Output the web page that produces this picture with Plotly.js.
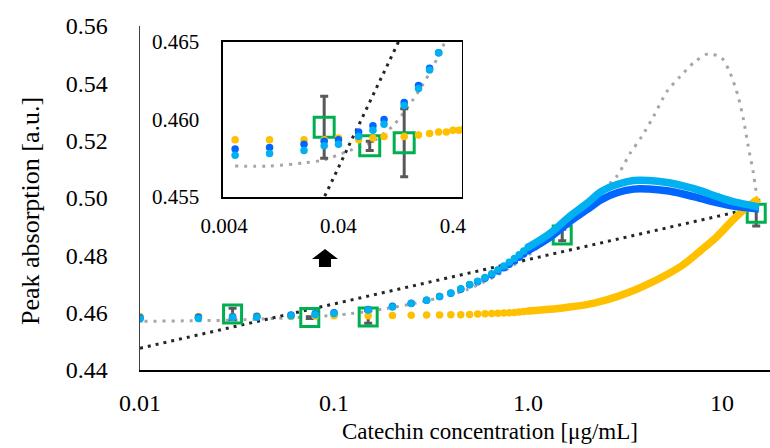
<!DOCTYPE html>
<html><head><meta charset="utf-8">
<script src="https://cdn.plot.ly/plotly-3.0.1.min.js"></script>
<style>html,body{margin:0;padding:0;background:#fff}#chart{width:770px;height:448px}</style>
</head><body><div id="chart"></div>
<script>
// ---- data ----
const concDots = [0.005, 0.01, 0.02, 0.03, 0.04, 0.06, 0.08, 0.1, 0.15, 0.2, 0.25, 0.3, 0.35, 0.4, 0.45, 0.5, 0.55, 0.6, 0.65, 0.7, 0.75, 0.8, 0.85, 0.9, 0.95, 1.0];
const orangeDots = [0.4587, 0.4587, 0.4587, 0.4587, 0.4588, 0.4587, 0.4588, 0.4589, 0.4589, 0.4590, 0.4591, 0.4592, 0.4592, 0.4593, 0.4593, 0.4594, 0.4595, 0.4596, 0.4597, 0.4598, 0.4599, 0.4600, 0.4601, 0.4602, 0.4604, 0.4606];
const darkBlueDots = [0.4581, 0.4582, 0.4584, 0.4586, 0.4587, 0.4592, 0.4596, 0.4600, 0.4611, 0.4622, 0.4633, 0.4643, 0.4656, 0.4668, 0.4682, 0.4697, 0.4708, 0.4720, 0.4732, 0.4745, 0.4757, 0.4769, 0.4781, 0.4793, 0.4805, 0.4816];
const lightBlueDots = [0.4577, 0.4578, 0.4580, 0.4583, 0.4584, 0.4589, 0.4593, 0.4597, 0.4609, 0.4620, 0.4632, 0.4643, 0.4656, 0.4669, 0.4683, 0.4698, 0.4710, 0.4723, 0.4736, 0.4750, 0.4763, 0.4776, 0.4789, 0.4802, 0.4815, 0.4828];

const concCurve = [1.0, 1.3, 1.6, 2.0, 2.4, 2.9, 3.5, 4.2, 5.2, 6.3, 7.7, 9.4, 11.4, 13.9, 15.5];
const orangeCurve = [0.4606, 0.4612, 0.4619, 0.4628, 0.4640, 0.4657, 0.4677, 0.4701, 0.4733, 0.4767, 0.4815, 0.4865, 0.4924, 0.4976, 0.4998];
const darkBlueCurve = [0.4816, 0.4863, 0.4912, 0.4958, 0.4995, 0.5019, 0.5031, 0.5031, 0.5025, 0.5014, 0.4999, 0.4984, 0.4972, 0.4965, 0.4962];
const lightBlueCurve = [0.4828, 0.4877, 0.4930, 0.4980, 0.5024, 0.5048, 0.5061, 0.5061, 0.5054, 0.5042, 0.5026, 0.5005, 0.4987, 0.4975, 0.4968];

const fitX = [0.005, 0.01, 0.02, 0.03, 0.05, 0.08, 0.12, 0.18, 0.25, 0.34, 0.48, 0.72, 1.06, 1.3, 1.58, 1.93, 2.35, 2.86, 3.36, 3.85, 4.43, 5.19, 6.08, 7.26, 8.5, 9.96, 11.0, 12.1, 12.9, 13.65, 14.5, 15.1];
const fitY = [0.4570, 0.4570, 0.4572, 0.4574, 0.4580, 0.4586, 0.4596, 0.4613, 0.4630, 0.4650, 0.4679, 0.4737, 0.4813, 0.4865, 0.4918, 0.4970, 0.5022, 0.5075, 0.5156, 0.5214, 0.5284, 0.5371, 0.5424, 0.5476, 0.5503, 0.5488, 0.5436, 0.5354, 0.5273, 0.5179, 0.5087, 0.5005];

const trendX = [0.01, 15];
const trendY = [0.4476, 0.4967];

const meanX = [0.03, 0.075, 0.15, 1.5, 15];
const meanY = [0.4595, 0.4583, 0.4585, 0.4871, 0.4947];
const meanErr = [0.0020, 0.0003, 0.0022, 0.0020, 0.0045];

const xTickVals = [0.01, 0.1, 1, 10];
const xTickText = ['0.01', '0.1', '1.0', '10'];
const yTickVals = [0.44, 0.46, 0.48, 0.50, 0.52, 0.54, 0.56];
const insetXTickVals = [0.004, 0.04, 0.4];
const insetXTickText = ['0.004', '0.04', '0.4'];
const insetYTickVals = [0.455, 0.460, 0.465];
const xTitle = 'Catechin concentration [μg/mL]';
const yTitle = 'Peak absorption [a.u.]';

// ---- styles ----
const ORANGE = '#FFC000', DBLUE = '#0066FF', LBLUE = '#00B0F0', GREEN = '#00B050';
const FONT = 'Liberation Serif, Times New Roman, serif';

function tracesFor(xa, ya, sqSize, withCurves) {
  const t = [];
  t.push({x: fitX, y: fitY, mode: 'lines', line: {color: '#A6A6A6', width: 3, dash: '3px,6px', shape: 'spline', smoothing: 0.8}, xaxis: xa, yaxis: ya, hoverinfo: 'skip'});
  t.push({x: trendX, y: trendY, mode: 'lines', line: {color: '#262626', width: 3, dash: '3px,5px'}, xaxis: xa, yaxis: ya, hoverinfo: 'skip'});
  t.push({x: meanX, y: meanY, mode: 'markers', marker: {symbol: 'square-open', size: sqSize, color: GREEN, line: {width: 3, color: GREEN}},
    error_y: {type: 'data', array: meanErr, visible: true, color: '#595959', thickness: 3, width: 4}, xaxis: xa, yaxis: ya});
  t.push({x: concDots, y: orangeDots, mode: 'markers', marker: {size: 7.5, color: ORANGE}, xaxis: xa, yaxis: ya});
  if (withCurves) t.push({x: concCurve, y: orangeCurve, mode: 'lines', line: {color: ORANGE, width: 7.5, shape: 'spline'}, xaxis: xa, yaxis: ya});
  t.push({x: concDots, y: darkBlueDots, mode: 'markers', marker: {size: 7.5, color: DBLUE}, xaxis: xa, yaxis: ya});
  if (withCurves) t.push({x: concCurve, y: darkBlueCurve, mode: 'lines', line: {color: DBLUE, width: 7.5, shape: 'spline'}, xaxis: xa, yaxis: ya});
  t.push({x: concDots, y: lightBlueDots, mode: 'markers', marker: {size: 7.5, color: LBLUE}, xaxis: xa, yaxis: ya});
  if (withCurves) t.push({x: concCurve, y: lightBlueCurve, mode: 'lines', line: {color: LBLUE, width: 7.5, shape: 'spline'}, xaxis: xa, yaxis: ya});
  return t;
}

const data = tracesFor('x', 'y', 18, true).concat(tracesFor('x2', 'y2', 20, false));

const tickFont = {family: FONT, size: 24, color: '#000'};
const insetFont = {family: FONT, size: 21, color: '#000'};

const layout = {
  width: 770, height: 448,
  margin: {l: 140, r: 0, t: 26, b: 78, pad: 0},
  paper_bgcolor: '#fff', plot_bgcolor: 'rgba(0,0,0,0)',
  showlegend: false,
  xaxis: {
    type: 'log', range: [-2, 1.247], domain: [0, 1],
    showline: true, linecolor: '#000', linewidth: 1.5,
    showgrid: false, zeroline: false, ticks: '',
    tickvals: xTickVals, ticktext: xTickText, tickfont: tickFont, ticklabelstandoff: 11,
    automargin: false
  },
  yaxis: {
    range: [0.44, 0.56], domain: [0, 1],
    showline: true, linecolor: '#404040', linewidth: 1.5,
    showgrid: false, zeroline: false, ticks: '',
    tickvals: yTickVals, tickformat: '.2f', tickfont: tickFont, ticklabelstandoff: 26,
    automargin: false
  },
  xaxis2: {
    type: 'log', range: [-2.407, -0.319], domain: [0.1317, 0.5111], anchor: 'y2',
    showline: true, mirror: true, linecolor: '#000', linewidth: 1.5,
    showgrid: false, zeroline: false, ticks: '',
    tickvals: insetXTickVals, ticktext: insetXTickText, tickfont: insetFont, ticklabelstandoff: 9
  },
  yaxis2: {
    range: [0.455, 0.465], domain: [0.5029, 0.9535], anchor: 'x2',
    showline: true, mirror: true, linecolor: '#000', linewidth: 1.5,
    showgrid: false, zeroline: false, ticks: '',
    tickvals: insetYTickVals, tickformat: '.3f', tickfont: insetFont, ticklabelstandoff: 18
  },
  annotations: [
    {text: xTitle, xref: 'paper', yref: 'paper', x: 0.5556, y: -0.178, xanchor: 'center', yanchor: 'middle', showarrow: false,
     font: {family: FONT, size: 23, color: '#000'}},
    {text: yTitle, xref: 'paper', yref: 'paper', x: -0.1746, y: 0.4622, xanchor: 'center', yanchor: 'middle', showarrow: false, textangle: -90,
     font: {family: FONT, size: 26, color: '#000'}}
  ],
  shapes: [{
    type: 'path', xref: 'paper', yref: 'paper',
    path: 'M 0.2937 0.3517 L 0.3143 0.3227 L 0.3032 0.3227 L 0.3032 0.2994 L 0.2841 0.2994 L 0.2841 0.3227 L 0.2730 0.3227 Z',
    fillcolor: '#000', line: {width: 0}
  }]
};

Plotly.newPlot('chart', data, layout, {displayModeBar: false, staticPlot: true});
</script>
</body></html>
